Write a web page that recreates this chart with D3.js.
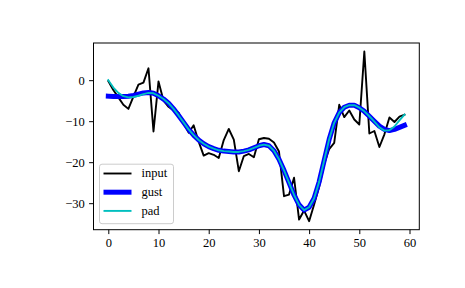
<!DOCTYPE html>
<html><head><meta charset="utf-8">
<script src="https://cdn.jsdelivr.net/npm/d3@7"></script>
<style>
body{margin:0;background:#fff}
svg text{font-family:"Liberation Serif","Times New Roman",serif;font-size:12.5px;fill:#000}
</style>
</head><body>
<svg id="chart" width="465" height="288"></svg>
<script>
// ---- data ----
const sampleIndex = d3.range(60);
const inputVals = [
  -0.2, -2.4, -4.2, -6.0, -7.0, -4.0, -1.1, -0.6, 2.9, -12.5,
  -0.3, -5.0, -6.5, -7.4, -7.9, -10.5, -12.8, -11.0, -15.0, -18.4,
  -17.8, -18.2, -19.0, -14.6, -11.9, -14.5, -22.2, -18.5, -18.0, -18.8,
  -14.4, -14.1, -14.3, -15.2, -17.4, -28.3, -27.9, -23.8, -34.0, -31.8,
  -34.4, -30.3, -26.0, -20.5, -16.8, -15.3, -6.0, -9.0, -7.4, -9.6,
  -10.8, 7.0, -13.0, -12.4, -16.3, -13.2, -9.1, -10.2, -8.9, -8.4
];
const gustVals = [
  -3.9, -3.95, -4.0, -4.0, -3.9, -3.7, -3.4, -3.1, -3.0, -3.2,
  -3.8, -4.6, -5.6, -7.0, -8.6, -10.3, -12.0, -13.4, -14.6, -15.5,
  -16.2, -16.7, -17.1, -17.3, -17.4, -17.5, -17.5, -17.3, -17.0, -16.5,
  -16.0, -15.7, -16.0, -17.2, -19.3, -22.0, -25.0, -28.0, -30.4, -31.7,
  -31.0, -28.8, -24.8, -19.6, -14.4, -10.4, -7.9, -6.6, -6.1, -6.1,
  -6.7, -7.6, -8.8, -10.0, -11.2, -12.0, -12.3, -12.0, -11.5, -11.0
];
const padVals = [
  0.0, -1.8, -3.1, -3.9, -4.2, -4.1, -3.8, -3.4, -3.1, -3.2,
  -3.8, -4.6, -5.6, -7.0, -8.6, -10.3, -12.0, -13.4, -14.6, -15.5,
  -16.2, -16.7, -17.1, -17.3, -17.4, -17.5, -17.5, -17.3, -17.0, -16.5,
  -16.0, -15.7, -16.0, -17.2, -19.3, -22.0, -25.0, -28.0, -30.4, -31.7,
  -31.0, -28.8, -24.8, -19.6, -14.4, -10.4, -7.9, -6.6, -6.1, -6.1,
  -6.7, -7.6, -8.8, -10.1, -11.5, -12.3, -12.2, -11.3, -9.8, -8.4
];
const xTicks = [0, 10, 20, 30, 40, 50, 60];
const yTicks = [-30, -20, -10, 0];
const seriesNames = ["input", "gust", "pad"];

// ---- layout ----
const plot = {left: 93.5, right: 419.3, top: 43, bottom: 229.7};
const svg = d3.select("#chart");

const xExt = d3.extent(sampleIndex), xPad = (xExt[1] - xExt[0]) * 0.05;
const allY = inputVals.concat(gustVals, padVals);
const yExt = d3.extent(allY), yPad = (yExt[1] - yExt[0]) * 0.05;

const x = d3.scaleLinear().domain([xExt[0] - xPad, xExt[1] + xPad]).range([plot.left, plot.right]);
const y = d3.scaleLinear().domain([yExt[0] - yPad, yExt[1] + yPad]).range([plot.bottom, plot.top]);

const styles = {
  input: {color: "#000000", width: 1.9},
  gust: {color: "#0000ff", width: 5},
  pad: {color: "#00bfbf", width: 1.9}
};
const dataBy = {input: inputVals, gust: gustVals, pad: padVals};

const line = d3.line().x((d, i) => x(sampleIndex[i])).y(d => y(d));

seriesNames.forEach(name => {
  svg.append("path")
    .datum(dataBy[name])
    .attr("d", line)
    .attr("fill", "none")
    .attr("stroke", styles[name].color)
    .attr("stroke-width", styles[name].width)
    .attr("stroke-linejoin", "round")
    .attr("stroke-linecap", "square");
});

// axes
const tickLen = 4.4, tickPad = 4.4;
const fmt = d3.format("d");
const gx = svg.append("g").attr("transform", `translate(0,${plot.bottom})`)
  .call(d3.axisBottom(x).tickValues(xTicks).tickFormat(fmt).tickSize(tickLen).tickPadding(tickPad));
const gy = svg.append("g").attr("transform", `translate(${plot.left},0)`)
  .call(d3.axisLeft(y).tickValues(yTicks).tickFormat(fmt).tickSize(tickLen).tickPadding(tickPad));
[gx, gy].forEach(g => {
  g.select(".domain").remove();
  g.selectAll("line").attr("stroke", "#000").attr("stroke-width", 1);
  g.selectAll("text").attr("font-family", null).attr("font-size", null).style("fill", "#000");
});

// frame
svg.append("rect")
  .attr("x", plot.left).attr("y", plot.top)
  .attr("width", plot.right - plot.left).attr("height", plot.bottom - plot.top)
  .attr("fill", "none").attr("stroke", "#000").attr("stroke-width", 1);

// legend
const lg = svg.append("g").attr("transform", `translate(${plot.left + 6},${plot.bottom - 6})`);
const rowH = 18.7, legH = 59.5, legW = 74;
lg.append("rect")
  .attr("x", 0).attr("y", -legH).attr("width", legW).attr("height", legH)
  .attr("rx", 2.5).attr("ry", 2.5)
  .attr("fill", "#fff").attr("fill-opacity", 0.8)
  .attr("stroke", "#cccccc").attr("stroke-width", 1);
seriesNames.forEach((name, i) => {
  const cy = -legH + 9.3 + i * rowH;
  lg.append("line")
    .attr("x1", 4).attr("x2", 32).attr("y1", cy).attr("y2", cy)
    .attr("stroke", styles[name].color).attr("stroke-width", styles[name].width);
  lg.append("text").attr("x", 42).attr("y", cy + 3.6).text(name);
});
</script>
</body></html>
